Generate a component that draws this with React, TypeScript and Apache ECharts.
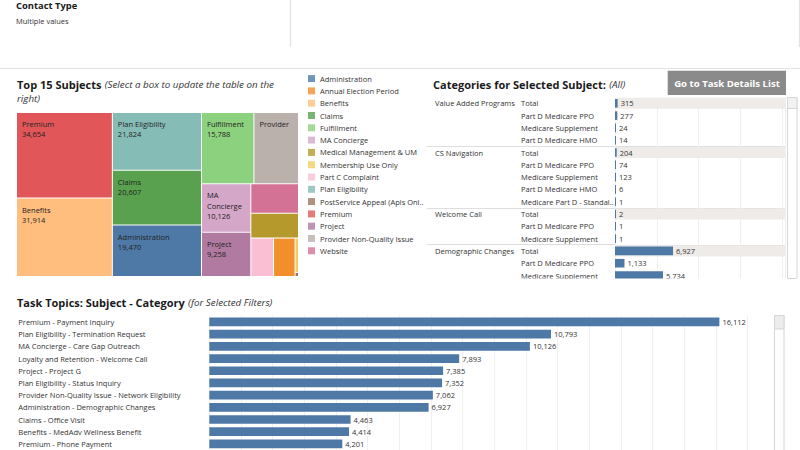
import React, { useEffect, useRef } from 'react';
import * as echarts from 'echarts';

const FONT = '"Open Sans", "Noto Sans", "DejaVu Sans", sans-serif';
const INK = '#333333';
const HEAD = '#1b1b1b';
const BAR_BLUE = '#4e79a7';
const ITALIC_SIZE = 9.8;

// Filter summary
const contactTypeTitle = 'Contact Type';
const contactTypeValue = 'Multiple values';

// Top 15 subjects (treemap), in drawing order
const subjectNames = [
  'Premium',
  'Benefits',
  'Plan Eligibility',
  'Claims',
  'Administration',
  'Fulfillment',
  'Provider Non-Quality Issue',
  'MA Concierge',
  'Project',
  'Website',
  'Medical Management & UM',
  'Part C Complaint',
  'Annual Election Period',
  'Membership Use Only',
  'PostService Appeal (Apls Only)',
];
const subjectValues = [34654, 31914, 21824, 20607, 19470, 15788, 13430, 10126, 9258, 5970, 5020, 3700, 3500, 500, 60];
// 'full' = name + value, 'name' = first word only, 'none' = no label
const subjectLabelModes = ['full', 'full', 'full', 'full', 'full', 'full', 'name', 'full', 'full', 'none', 'none', 'none', 'none', 'none', 'none'];
// grouping of subject indices used to nest the treemap blocks
const subjectTree = [[0, 1], [2, 3, 4], [[5, 6], [7, 8], [[9, 10], [11, 12], [13, 14]]]];

const legendSubjects = [
  'Administration',
  'Annual Election Period',
  'Benefits',
  'Claims',
  'Fulfillment',
  'MA Concierge',
  'Medical Management & UM',
  'Membership Use Only',
  'Part C Complaint',
  'Plan Eligibility',
  'PostService Appeal (Apls Only)',
  'Premium',
  'Project',
  'Provider Non-Quality Issue',
  'Website',
];
const subjectColors: Record<string, string> = {
  'Administration': '#4e79a7',
  'Annual Election Period': '#f28e2b',
  'Benefits': '#ffbe7d',
  'Claims': '#59a14f',
  'Fulfillment': '#8cd17d',
  'MA Concierge': '#d4a6c8',
  'Medical Management & UM': '#b6992d',
  'Membership Use Only': '#f1ce63',
  'Part C Complaint': '#fabfd2',
  'Plan Eligibility': '#86bcb6',
  'PostService Appeal (Apls Only)': '#9d7660',
  'Premium': '#e15759',
  'Project': '#b07aa1',
  'Provider Non-Quality Issue': '#bab0ac',
  'Website': '#d37295',
};

// Categories for selected subject (table)
const tableGroups = ['Value Added Programs', 'CS Navigation', 'Welcome Call', 'Demographic Changes'];
const tableRowGroup = [0, 0, 0, 0, 1, 1, 1, 1, 1, 2, 2, 2, 3, 3, 3];
const tableRowCategory = [
  'Total',
  'Part D Medicare PPO',
  'Medicare Supplement',
  'Part D Medicare HMO',
  'Total',
  'Part D Medicare PPO',
  'Medicare Supplement',
  'Part D Medicare HMO',
  'Medicare Part D - Standal..',
  'Total',
  'Part D Medicare PPO',
  'Medicare Supplement',
  'Total',
  'Part D Medicare PPO',
  'Medicare Supplement',
];
const tableRowValues = [315, 277, 24, 14, 204, 74, 123, 6, 1, 2, 1, 1, 6927, 1133, 5734];

// Task topics: subject - category
const taskTopics = [
  'Premium - Payment Inquiry',
  'Plan Eligibility - Termination Request',
  'MA Concierge - Care Gap Outreach',
  'Loyalty and Retention - Welcome Call',
  'Project - Project G',
  'Plan Eligibility - Status Inquiry',
  'Provider Non-Quality Issue - Network Eligibility',
  'Administration - Demographic Changes',
  'Claims - Office Visit',
  'Benefits - MedAdv Wellness Benefit',
  'Premium - Phone Payment',
];
const taskValues = [16112, 10793, 10126, 7893, 7385, 7352, 7062, 6927, 4463, 4414, 4201];

const fmt = (v: number) => Number(v).toLocaleString('en-US');

type TreeSpec = number | TreeSpec[];
const buildNode = (spec: TreeSpec, key: string): any => {
  if (typeof spec === 'number') {
    const name = subjectNames[spec];
    return {
      name,
      value: subjectValues[spec],
      itemStyle: { color: subjectColors[name] },
      label: { show: subjectLabelModes[spec] !== 'none' },
    };
  }
  return { name: key, children: spec.map((s, j) => buildNode(s, `${key}-${j}`)) };
};

const tableKeys = tableRowValues.map((_, i) => String(i));
const isGroupStart = (i: number) => i > 0 && tableRowGroup[i] !== tableRowGroup[i - 1];
const isFirstOfGroup = (i: number) => i === 0 || tableRowGroup[i] !== tableRowGroup[i - 1];

const baseText = { fontFamily: FONT, fontSize: 7.5, color: INK };

const titleRich = {
  b: { fontFamily: FONT, fontSize: 11, fontWeight: 'bold', fill: HEAD },
  i: { fontFamily: FONT, fontSize: ITALIC_SIZE, fontStyle: 'italic', fill: INK },
};

export default function App() {
  const ref = useRef<HTMLDivElement>(null);

  useEffect(() => {
    if (!ref.current) return;
    const chart = echarts.init(ref.current, undefined, { renderer: 'svg' });

    const tableGrid = { left: 615, top: 97.15, width: 170, height: 184.5 };
    const taskGrid = { left: 209.3, top: 315.85, width: 538.2, height: 135.3 };

    const option: any = {
      animation: false,
      textStyle: { fontFamily: FONT },
      legend: {
        orient: 'vertical',
        left: 308,
        top: 74.6,
        padding: 0,
        icon: 'rect',
        itemWidth: 7,
        itemHeight: 7,
        itemGap: 4.3,
        selectedMode: false,
        textStyle: { ...baseText, lineHeight: 8 },
        formatter: (name: string) => (name.length > 28 ? name.slice(0, 28) + '..' : name),
        data: legendSubjects,
      },
      grid: [
        { ...tableGrid, containLabel: false },
        { ...tableGrid, containLabel: false },
        { ...taskGrid, containLabel: false },
      ],
      xAxis: [
        {
          gridIndex: 0,
          type: 'value',
          min: 0,
          max: 20300,
          interval: 5000,
          axisLabel: { show: false },
          axisLine: { show: false },
          axisTick: { show: false },
          splitLine: { show: true, lineStyle: { color: '#efefef', width: 1 } },
        },
        { gridIndex: 1, type: 'value', min: 0, max: 1, show: false },
        {
          gridIndex: 2,
          type: 'value',
          min: 0,
          max: 17000,
          interval: 1000,
          axisLabel: { show: false },
          axisLine: { show: false },
          axisTick: { show: false },
          splitLine: { show: true, lineStyle: { color: '#f0f0f0', width: 1 } },
        },
      ],
      yAxis: [
        {
          gridIndex: 0,
          type: 'category',
          inverse: true,
          data: tableKeys,
          axisLine: { show: false },
          axisTick: {
            show: true,
            length: 188,
            interval: (i: number) => isGroupStart(i),
            lineStyle: { color: '#dedede', width: 1 },
          },
          splitLine: {
            show: true,
            interval: (i: number) => isGroupStart(i),
            lineStyle: { color: '#dedede', width: 1 },
          },
          axisLabel: {
            margin: 180,
            align: 'left',
            interval: 0,
            formatter: (_v: string, i: number) =>
              isFirstOfGroup(i)
                ? `{g|${tableGroups[tableRowGroup[i]]}}{c|${tableRowCategory[i]}}`
                : `{p|${tableRowCategory[i]}}`,
            rich: {
              g: { ...baseText, width: 86 },
              c: { ...baseText },
              p: { ...baseText, padding: [0, 0, 0, 86] },
            },
          },
        },
        { gridIndex: 1, type: 'category', inverse: true, data: tableKeys, show: false },
        {
          gridIndex: 2,
          type: 'category',
          inverse: true,
          data: taskTopics,
          axisLine: { show: false },
          axisTick: { show: false },
          axisLabel: { ...baseText, margin: 191, align: 'left', interval: 0 },
        },
      ],
      series: [
        {
          type: 'treemap',
          name: 'Top 15 Subjects',
          left: 17,
          top: 113,
          width: 281,
          height: 163,
          roam: false,
          nodeClick: false,
          sort: false,
          squareRatio: 1,
          visibleMin: 0,
          breadcrumb: { show: false },
          upperLabel: { show: false },
          itemStyle: { borderWidth: 0, gapWidth: 1, borderColor: '#ffffff' },
          emphasis: { disabled: true },
          label: {
            show: true,
            position: 'insideTopLeft',
            distance: 0,
            padding: [6, 2, 0, 5],
            fontFamily: FONT,
            fontSize: 7.5,
            lineHeight: 10.3,
            color: '#222222',
            overflow: 'break',
            formatter: (p: any) => {
              const idx = subjectNames.indexOf(p.name);
              if (subjectLabelModes[idx] === 'name') return p.name.split(' ')[0];
              return `${p.name}\n${fmt(p.value)}`;
            },
          },
          data: (subjectTree as TreeSpec[]).map((s, i) => buildNode(s, `group-${i}`)),
        },
        {
          type: 'bar',
          name: 'Total band',
          xAxisIndex: 1,
          yAxisIndex: 1,
          z: 1,
          silent: true,
          barWidth: 11,
          itemStyle: { color: '#efebe9' },
          data: tableRowCategory.map((c) => (c === 'Total' ? 1 : '-')),
        },
        {
          type: 'bar',
          name: 'Categories',
          xAxisIndex: 0,
          yAxisIndex: 0,
          silent: true,
          barWidth: 8.6,
          barMinHeight: 1,
          itemStyle: { color: BAR_BLUE },
          label: {
            show: true,
            position: 'right',
            distance: 3,
            ...baseText,
            formatter: (p: any) => fmt(p.value),
          },
          data: tableRowValues,
        },
        {
          type: 'bar',
          name: 'Task Topics',
          xAxisIndex: 2,
          yAxisIndex: 2,
          silent: true,
          barWidth: 8.7,
          itemStyle: { color: BAR_BLUE },
          label: {
            show: true,
            position: 'right',
            distance: 3,
            ...baseText,
            formatter: (p: any) => fmt(p.value),
          },
          data: taskValues,
        },
        // legend entries for the subject colours
        ...legendSubjects.map((name) => ({
          type: 'scatter',
          name,
          xAxisIndex: 1,
          yAxisIndex: 1,
          data: [],
          itemStyle: { color: subjectColors[name] },
        })),
      ],
      graphic: {
        elements: [
          // filter panel
          {
            type: 'text',
            x: 16,
            y: 5.6,
            z: 100,
            style: { text: contactTypeTitle, fontFamily: FONT, fontSize: 9.4, fontWeight: 'bold', fill: HEAD, verticalAlign: 'middle' },
          },
          {
            type: 'text',
            x: 16,
            y: 21,
            z: 100,
            style: { text: contactTypeValue, fontFamily: FONT, fontSize: 7.5, fill: INK, verticalAlign: 'middle' },
          },
          { type: 'line', z: 100, shape: { x1: 290.5, y1: 0, x2: 290.5, y2: 47 }, style: { stroke: '#e2e2e2', lineWidth: 1.2 } },
          { type: 'line', z: 100, shape: { x1: 799.5, y1: 0, x2: 799.5, y2: 47 }, style: { stroke: '#e2e2e2', lineWidth: 1.2 } },
          { type: 'line', z: 100, shape: { x1: 0, y1: 68.5, x2: 800, y2: 68.5 }, style: { stroke: '#e2e2e2', lineWidth: 1.2 } },
          // section titles
          {
            type: 'text',
            x: 17,
            y: 84.3,
            z: 100,
            style: {
              text: '{b|Top 15 Subjects} {i|(Select a box to update the table on the}',
              verticalAlign: 'middle',
              rich: titleRich,
            },
          },
          {
            type: 'text',
            x: 17,
            y: 98,
            z: 100,
            style: { text: 'right)', fontFamily: FONT, fontSize: ITALIC_SIZE, fontStyle: 'italic', fill: INK, verticalAlign: 'middle' },
          },
          {
            type: 'text',
            x: 433,
            y: 84.5,
            z: 100,
            style: {
              text: '{b|Categories for Selected Subject:} {i|(All)}',
              verticalAlign: 'middle',
              rich: titleRich,
            },
          },
          {
            type: 'rect',
            z: 100,
            shape: { x: 667.7, y: 70.7, width: 118.3, height: 24.3 },
            style: { fill: '#8a8a8a' },
          },
          {
            type: 'text',
            x: 727,
            y: 83,
            z: 101,
            style: {
              text: 'Go to Task Details List',
              fontFamily: FONT,
              fontSize: 9.6,
              fontWeight: 'bold',
              fill: '#ffffff',
              align: 'center',
              verticalAlign: 'middle',
            },
          },
          {
            type: 'text',
            x: 17,
            y: 302.5,
            z: 100,
            style: {
              text: '{b|Task Topics: Subject - Category} {i|(for Selected Filters)}',
              verticalAlign: 'middle',
              rich: titleRich,
            },
          },
          // clip the table at the bottom of its scroll area
          {
            type: 'rect',
            z: 100,
            shape: { x: 425, y: 278.5, width: 375, height: 16 },
            style: { fill: '#ffffff' },
          },
          // scrollbars
          {
            type: 'rect',
            z: 101,
            shape: { x: 787.5, y: 97.5, width: 9.5, height: 181 },
            style: { fill: '#ffffff', stroke: '#d6d6d6', lineWidth: 1 },
          },
          {
            type: 'rect',
            z: 102,
            shape: { x: 787.5, y: 97.5, width: 9.5, height: 11 },
            style: { fill: '#f2f2f2', stroke: '#d6d6d6', lineWidth: 1 },
          },
          {
            type: 'rect',
            z: 101,
            shape: { x: 774.5, y: 315.5, width: 9.5, height: 140 },
            style: { fill: '#ffffff', stroke: '#d6d6d6', lineWidth: 1 },
          },
          {
            type: 'rect',
            z: 102,
            shape: { x: 774.5, y: 315.5, width: 9.5, height: 13.5 },
            style: { fill: '#ececec', stroke: '#d6d6d6', lineWidth: 1 },
          },
        ],
      },
    };

    chart.setOption(option);
    return () => chart.dispose();
  }, []);

  return (
    <div
      ref={ref}
      style={{ position: 'absolute', left: 0, top: 0, width: 800, height: 450, background: '#ffffff' }}
    />
  );
}
